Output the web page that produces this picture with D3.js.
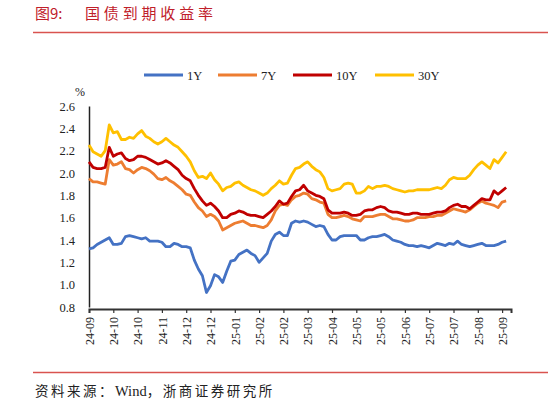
<!DOCTYPE html>
<html><head><meta charset="utf-8">
<script src="https://cdn.jsdelivr.net/npm/d3@7"></script>
<style>
html,body{margin:0;padding:0;background:#fff;}
svg{display:block;}
</style></head>
<body>
<svg id="c" width="548" height="401"></svg>
<script>
// ---- data ----
const xLabels = ["24-09","24-10","24-10","24-11","24-12","24-12","25-01","25-02","25-02","25-03","25-04","25-05","25-05","25-06","25-07","25-07","25-08","25-09"];
const yTicks = [0.8,1.0,1.2,1.4,1.6,1.8,2.0,2.2,2.4,2.6];
const seriesNames = ["1Y","7Y","10Y","30Y"];
const y1 = [1.32,1.33,1.36,1.38,1.40,1.42,1.36,1.36,1.37,1.43,1.44,1.43,1.42,1.41,1.42,1.39,1.39,1.39,1.38,1.34,1.34,1.37,1.36,1.34,1.34,
  1.33,1.22,1.14,1.08,0.93,0.99,1.09,1.07,1.02,1.12,1.21,1.22,1.27,1.29,1.31,1.28,1.26,1.20,1.24,1.28,1.39,1.45,1.47,1.44,1.44,1.55,1.57,
  1.56,1.57,1.56,1.54,1.52,1.53,1.52,1.45,1.40,1.40,1.43,1.44,1.44,1.44,1.44,1.40,1.40,1.42,1.43,1.43,1.44,1.45,1.43,1.40,1.39,1.38,1.36,
  1.35,1.35,1.34,1.35,1.34,1.33,1.35,1.37,1.36,1.35,1.37,1.36,1.39,1.36,1.35,1.34,1.35,1.36,1.37,1.35,1.35,1.35,1.36,1.38,1.39];
const y7 = [1.95,1.92,1.92,1.91,1.90,2.12,2.07,2.08,2.10,2.04,2.03,2.00,2.03,2.05,2.04,2.02,1.99,1.95,1.94,1.96,1.93,1.91,1.88,1.85,1.81,
  1.80,1.74,1.69,1.66,1.61,1.63,1.61,1.57,1.49,1.51,1.53,1.55,1.56,1.57,1.55,1.53,1.53,1.52,1.51,1.53,1.58,1.66,1.71,1.72,1.71,1.76,1.79,
  1.80,1.82,1.81,1.77,1.76,1.74,1.73,1.63,1.60,1.60,1.61,1.62,1.61,1.59,1.58,1.57,1.61,1.61,1.61,1.62,1.63,1.63,1.61,1.59,1.59,1.58,1.57,
  1.57,1.58,1.60,1.60,1.60,1.61,1.61,1.62,1.62,1.64,1.66,1.68,1.67,1.66,1.65,1.67,1.70,1.73,1.75,1.73,1.72,1.71,1.69,1.74,1.75];
const y10 = [2.10,2.05,2.04,2.04,2.05,2.23,2.15,2.17,2.18,2.13,2.11,2.12,2.15,2.15,2.14,2.12,2.10,2.08,2.09,2.11,2.09,2.06,2.03,1.98,1.95,
  1.93,1.86,1.80,1.75,1.71,1.73,1.70,1.66,1.60,1.60,1.63,1.64,1.66,1.65,1.63,1.62,1.62,1.61,1.60,1.63,1.66,1.70,1.75,1.72,1.73,1.79,1.84,
  1.85,1.89,1.84,1.82,1.80,1.79,1.77,1.67,1.64,1.64,1.64,1.65,1.64,1.62,1.62,1.63,1.66,1.67,1.67,1.69,1.70,1.69,1.66,1.65,1.65,1.64,1.63,
  1.63,1.64,1.64,1.63,1.63,1.63,1.64,1.65,1.65,1.66,1.69,1.71,1.72,1.70,1.70,1.68,1.71,1.74,1.77,1.76,1.76,1.84,1.81,1.84,1.87];
const y30 = [2.25,2.19,2.17,2.15,2.20,2.43,2.36,2.37,2.30,2.30,2.32,2.31,2.35,2.38,2.33,2.31,2.28,2.26,2.28,2.31,2.28,2.25,2.23,2.19,2.15,
  2.10,2.02,1.96,1.97,1.95,2.00,1.94,1.90,1.84,1.87,1.88,1.91,1.92,1.89,1.87,1.85,1.84,1.82,1.80,1.82,1.86,1.89,1.93,1.90,1.91,1.98,2.04,
  2.05,2.08,2.10,2.06,2.03,2.01,1.96,1.86,1.84,1.85,1.86,1.90,1.91,1.90,1.82,1.82,1.84,1.88,1.86,1.88,1.88,1.89,1.88,1.86,1.85,1.84,1.83,
  1.84,1.84,1.85,1.85,1.85,1.85,1.86,1.87,1.86,1.89,1.94,1.96,1.95,1.95,1.95,1.98,2.03,2.07,2.10,2.07,2.04,2.12,2.09,2.14,2.19];
const colors = ["#4472c4","#ed7d31","#c00000","#ffc000"];
const pointsPerTick = 6;

// ---- layout ----
const svg = d3.select("#c");
const serif = "'Liberation Serif','DejaVu Serif',serif";
const cjk = "'Noto Sans CJK SC','Noto Sans',sans-serif";
const x = d3.scaleLinear().domain([0, 104.2]).range([89, 89 + 104.2 * 4.05]);
const y = d3.scaleLinear().domain([0.8, 2.6]).range([307, 106]);

// title
svg.append("text").attr("x", 35).attr("y", 19).attr("fill", "#c0202a")
  .attr("font-family", cjk).attr("font-size", 15).text("图9:");
svg.append("text").attr("x", 85).attr("y", 19).attr("fill", "#c0202a")
  .attr("font-family", cjk).attr("font-size", 15)
  .attr("textLength", 128).attr("lengthAdjust", "spacing").text("国债到期收益率");
svg.append("line").attr("x1", 33).attr("x2", 548).attr("y1", 32.5).attr("y2", 32.5)
  .attr("stroke", "#d9534f").attr("stroke-width", 1.5);

// legend
const legX = [144, 218, 293, 375];
seriesNames.forEach((n, i) => {
  const g = svg.append("g");
  g.append("line").attr("x1", legX[i]).attr("x2", legX[i] + 39).attr("y1", 75).attr("y2", 75)
    .attr("stroke", colors[i]).attr("stroke-width", 3);
  g.append("text").attr("x", legX[i] + 43).attr("y", 79.5).attr("font-family", serif)
    .attr("font-size", 12.5).attr("fill", "#222").text(n);
});

// unit
svg.append("text").attr("x", 80).attr("y", 96).attr("text-anchor", "middle")
  .attr("font-family", serif).attr("font-size", 12).attr("fill", "#222").text("%");

// y axis
const ya = svg.append("g").attr("transform", "translate(89,0)")
  .call(d3.axisLeft(y).tickValues(yTicks).tickFormat(d3.format(".1f")).tickSize(0).tickPadding(14));
ya.select(".domain").attr("stroke", "#222").attr("stroke-width", 1.5);
ya.selectAll("text").attr("font-family", serif).attr("font-size", 12.5).attr("fill", "#222");

// x axis
const xa = svg.append("g").attr("transform", "translate(0,309)")
  .call(d3.axisBottom(x).tickValues(xLabels.map((_, k) => k * pointsPerTick))
    .tickFormat((d, k) => xLabels[k]).tickSizeOuter(0).tickSize(4));
xa.select(".domain").attr("stroke", "#333").attr("stroke-width", 2);
xa.selectAll(".tick line").attr("stroke", "#333").attr("stroke-width", 1.2);
xa.selectAll("text").attr("font-family", serif).attr("font-size", 12).attr("fill", "#222")
  .attr("transform", "rotate(-90)").attr("text-anchor", "end")
  .attr("x", -8).attr("y", 0).attr("dy", "0.35em");

// lines
const line = d3.line().x((d, i) => x(i)).y(d => y(d));
[y1, y7, y10, y30].forEach((s, i) => {
  svg.append("path").datum(s).attr("d", line).attr("fill", "none")
    .attr("stroke", colors[i]).attr("stroke-width", 2.8).attr("stroke-linejoin", "round");
});

// footer
svg.append("line").attr("x1", 33).attr("x2", 548).attr("y1", 372.5).attr("y2", 372.5)
  .attr("stroke", "#d9534f").attr("stroke-width", 1.5);
const foot = svg.append("text").attr("x", 35).attr("y", 396).attr("font-family", cjk)
  .attr("font-size", 13.5).attr("fill", "#222");
foot.append("tspan").attr("letter-spacing", 2.5).text("资料来源：");
foot.append("tspan").attr("font-family", serif).attr("font-size", 14.5).text("Wind");
foot.append("tspan").attr("letter-spacing", 2.5).text("，浙商证券研究所");
</script>
</body></html>
